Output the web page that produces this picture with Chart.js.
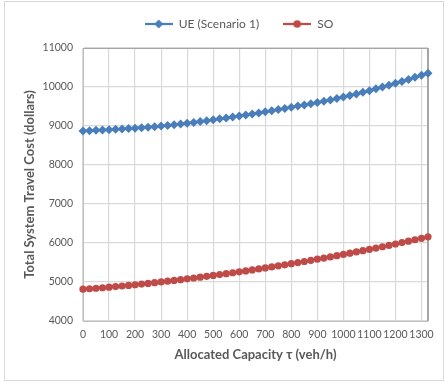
<!DOCTYPE html>
<html>
<head>
<meta charset="utf-8">
<script src="https://cdn.jsdelivr.net/npm/chart.js@4/dist/chart.umd.min.js"></script>
<style>
  html, body { margin: 0; padding: 0; background: #fff; }
  #wrap { width: 448px; height: 385px; position: relative; }
</style>
</head>
<body>
<div id="wrap"><canvas id="costChart" width="448" height="385"></canvas></div>
<script>
// allocated capacity (veh/h), one point every 25
const capacity = [
  0, 25, 50, 75, 100, 125, 150, 175, 200, 225, 250, 275, 300, 325, 350, 375,
  400, 425, 450, 475, 500, 525, 550, 575, 600, 625, 650, 675, 700, 725, 750,
  775, 800, 825, 850, 875, 900, 925, 950, 975, 1000, 1025, 1050, 1075, 1100,
  1125, 1150, 1175, 1200, 1225, 1250, 1275, 1300, 1325
];

// UE (Scenario 1) total cost
const ueCost = [
  8872, 8880, 8888, 8896, 8905, 8914, 8924, 8934, 8945, 8957, 8970, 8983,
  8997, 9014, 9032, 9051, 9070, 9091, 9113, 9136, 9160, 9183, 9206, 9230,
  9255, 9281, 9308, 9336, 9364, 9392, 9421, 9450, 9480, 9510, 9540, 9570,
  9601, 9633, 9667, 9703, 9741, 9780, 9821, 9863, 9907, 9952, 9998, 10045,
  10094, 10144, 10195, 10247, 10300, 10354
];

// SO total cost
const soCost = [
  4815, 4827, 4840, 4853, 4867, 4882, 4897, 4913, 4929, 4946, 4964, 4982,
  5001, 5020, 5040, 5060, 5081, 5102, 5124, 5146, 5168, 5191, 5214, 5237,
  5261, 5285, 5310, 5335, 5361, 5387, 5414, 5441, 5469, 5497, 5526, 5555,
  5584, 5614, 5644, 5675, 5706, 5738, 5770, 5803, 5836, 5870, 5904, 5939,
  5974, 6010, 6046, 6083, 6120, 6158
];

const xTicks = [0, 100, 200, 300, 400, 500, 600, 700, 800, 900, 1000, 1100, 1200, 1300];
const yTicks = [4000, 5000, 6000, 7000, 8000, 9000, 10000, 11000];

const BLUE = "#4a7ebb";
const RED = "#be4b48";
const TEXT = "#595959";
const FONT = "Lato, 'Open Sans', sans-serif";

// little line+marker images for the legend, like excel does
function legendIcon(color, shape) {
  const c = document.createElement("canvas");
  c.width = 28;
  c.height = 10;
  const g = c.getContext("2d");
  g.strokeStyle = color;
  g.lineWidth = 2.25;
  g.beginPath();
  g.moveTo(0, 5);
  g.lineTo(28, 5);
  g.stroke();
  g.fillStyle = color;
  g.beginPath();
  if (shape === "diamond") {
    g.moveTo(14, 0.5);
    g.lineTo(18.5, 5);
    g.lineTo(14, 9.5);
    g.lineTo(9.5, 5);
    g.closePath();
  } else {
    g.arc(14, 5, 3.8, 0, Math.PI * 2);
  }
  g.fill();
  return c;
}

const frame = {
  id: "frame",
  beforeDraw(chart) {
    const ctx = chart.ctx;
    ctx.save();
    ctx.fillStyle = "#fff";
    ctx.fillRect(0, 0, chart.width, chart.height);
    ctx.strokeStyle = "#d9d9d9";
    ctx.lineWidth = 1;
    ctx.strokeRect(4.5, 1.5, 439, 379);
    ctx.restore();
  },
  beforeDatasetsDraw(chart) {
    const { ctx, chartArea: a } = chart;
    ctx.save();
    ctx.strokeStyle = "#a6a6a6";
    ctx.lineWidth = 1;
    ctx.beginPath();
    ctx.moveTo(a.left, Math.round(a.top) + 0.5);
    ctx.lineTo(a.right, Math.round(a.top) + 0.5);
    ctx.stroke();
    ctx.lineWidth = 2;
    ctx.beginPath();
    ctx.moveTo(Math.round(a.right), a.top);
    ctx.lineTo(Math.round(a.right), a.bottom);
    ctx.stroke();
    ctx.restore();
  },
};

// empty spacer axes, only there to push the plot area around
const spacer = (size, horizontal) => ({
  display: true,
  position: horizontal ? "top" : "right",
  grid: { display: false },
  border: { display: false },
  ticks: { display: false },
  afterFit: (s) => {
    if (horizontal) s.height = size;
    else s.width = size;
  },
});

const config = {
  type: "line",
  data: {
    datasets: [
      {
        label: "UE (Scenario 1)",
        data: capacity.map((x, i) => ({ x: x, y: ueCost[i] })),
        borderColor: BLUE,
        backgroundColor: BLUE,
        borderWidth: 2.25,
        pointStyle: "rectRot",
        pointRadius: 4.5,
        pointBorderWidth: 0,
        pointBackgroundColor: BLUE,
        clip: false,
      },
      {
        label: "SO",
        data: capacity.map((x, i) => ({ x: x, y: soCost[i] })),
        borderColor: RED,
        backgroundColor: RED,
        borderWidth: 2.25,
        pointStyle: "circle",
        pointRadius: 3.6,
        pointBorderWidth: 0,
        pointBackgroundColor: RED,
        clip: false,
      },
    ],
  },
  options: {
    responsive: false,
    animation: false,
    layout: { padding: { top: -6, right: -30, bottom: 0, left: 0 } },
    plugins: {
      legend: {
        position: "top",
        labels: {
          usePointStyle: true,
          pointStyleWidth: 28,
          padding: 24,
          color: TEXT,
          font: { family: FONT, size: 12 },
          generateLabels(chart) {
            return chart.data.datasets.map((ds, i) => ({
              text: ds.label,
              fillStyle: ds.borderColor,
              strokeStyle: ds.borderColor,
              fontColor: TEXT,
              lineWidth: 0,
              pointStyle: legendIcon(ds.borderColor, i === 0 ? "diamond" : "circle"),
              datasetIndex: i,
            }));
          },
        },
      },
      tooltip: { enabled: false },
    },
    scales: {
      x: {
        type: "linear",
        min: 0,
        max: 1325,
        afterBuildTicks: (s) => { s.ticks = xTicks.map((v) => ({ value: v })); },
        afterFit: (s) => { s.height = 64; },
        grid: { color: "#d9d9d9", lineWidth: 1.2, drawTicks: false },
        border: { color: "#bfbfbf" },
        ticks: {
          padding: 7,
          color: TEXT,
          maxRotation: 0,
          autoSkip: false,
          font: { family: FONT, size: 10.5 },
          callback: (v) => String(v),
        },
        title: {
          display: true,
          text: "Allocated Capacity τ (veh/h)",
          color: TEXT,
          font: { family: FONT, size: 13, weight: "bold" },
          padding: { top: 0, bottom: 22 },
        },
      },
      y: {
        min: 4000,
        max: 11000,
        afterBuildTicks: (s) => { s.ticks = yTicks.map((v) => ({ value: v })); },
        afterFit: (s) => { s.width = 83; },
        grid: { color: "#d9d9d9", lineWidth: 1.2, drawTicks: false },
        border: { color: "#bfbfbf" },
        ticks: {
          padding: 10,
          color: TEXT,
          font: { family: FONT, size: 10.5 },
          callback: (v) => String(v),
        },
        title: {
          display: true,
          text: "Total System Travel Cost (dollars)",
          color: TEXT,
          font: { family: FONT, size: 13, weight: "bold" },
          padding: { top: 22, bottom: 0 },
        },
      },
      gapTop: spacer(8, true),
      gapRight: spacer(50, false),
    },
  },
  plugins: [frame],
};

new Chart(document.getElementById("costChart"), config);
</script>
</body>
</html>
